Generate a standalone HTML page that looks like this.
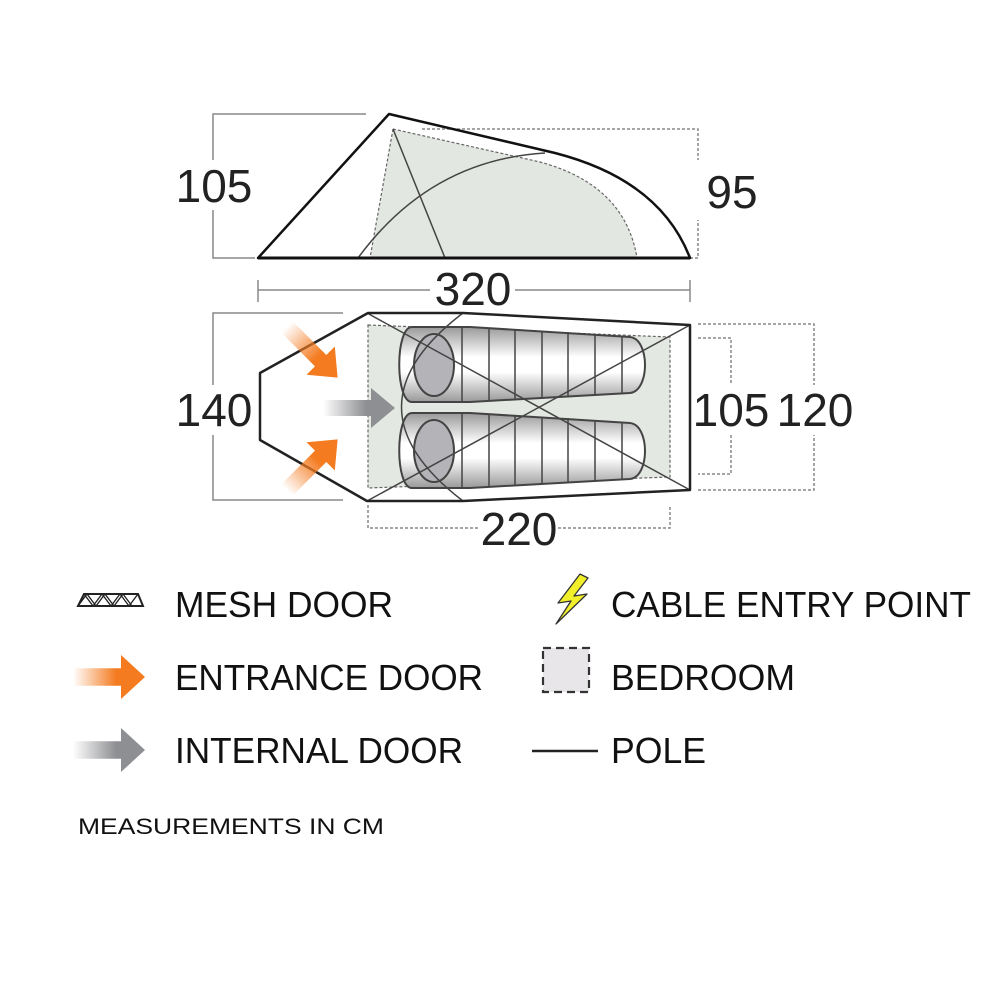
<!DOCTYPE html>
<html><head><meta charset="utf-8"><style>html,body{margin:0;padding:0;background:#fff}svg{display:block}</style></head>
<body>
<svg width="1000" height="1000" viewBox="0 0 1000 1000" xmlns="http://www.w3.org/2000/svg" font-family="Liberation Sans, sans-serif">
<defs>
<linearGradient id="og" x1="0" x2="1" y1="0" y2="0"><stop offset="0" stop-color="#f47b20" stop-opacity="0"/><stop offset="0.6" stop-color="#f47b20"/><stop offset="1" stop-color="#f47b20"/></linearGradient>
<linearGradient id="gg" x1="0" x2="1" y1="0" y2="0"><stop offset="0" stop-color="#8e8f92" stop-opacity="0"/><stop offset="0.6" stop-color="#8e8f92"/><stop offset="1" stop-color="#8e8f92"/></linearGradient>
<linearGradient id="bag" x1="0" x2="0" y1="0" y2="1"><stop offset="0" stop-color="#999"/><stop offset="0.4" stop-color="#fff"/><stop offset="0.6" stop-color="#fff"/><stop offset="1" stop-color="#999"/></linearGradient>
<g id="oarrow"><path d="M-40,-8 L8,-8 L8,-20 L32,0 L8,20 L8,8 L-40,8 Z" fill="url(#og)"/></g>
<g id="garrow"><path d="M-40,-8 L8,-8 L8,-20 L32,0 L8,20 L8,8 L-40,8 Z" fill="url(#gg)"/></g>
<g id="sbag">
<path d="M412,0 C395,0 395,75 412,75 L470,75 L630,66 C650,64 650,12 630,10 L470,0 Z" fill="url(#bag)" stroke="#444" stroke-width="2"/>
<g stroke="#444" stroke-width="1.5"><line x1="462" y1="0" x2="462" y2="75"/><line x1="489" y1="1" x2="489" y2="74"/><line x1="515" y1="2" x2="515" y2="73"/><line x1="542" y1="4" x2="542" y2="71"/><line x1="568" y1="5" x2="568" y2="70"/><line x1="595" y1="7" x2="595" y2="68"/><line x1="622" y1="9" x2="622" y2="66"/></g>
<ellipse cx="434" cy="38" rx="20" ry="31" fill="#b4b4b8" stroke="#444" stroke-width="2"/>
</g>
</defs>

<!-- side view dims -->
<g stroke="#888" stroke-width="1.5" fill="none">
<path d="M366,114 H213 V258 H255"/>
<path d="M422,129 H698 V258 H670" stroke-dasharray="3,2"/>
<path d="M258,280 V302 M690,280 V302 M258,290 H430 M515,290 H690"/>
</g>
<!-- plan view dims -->
<g stroke="#888" stroke-width="1.5" fill="none">
<path d="M343,313 H213 V500 H343"/>
<path d="M698,338 H731 V474 H698 M698,324 H814 V490 H698 M368,505 V528 H480 M558,528 H670 V505" stroke-dasharray="3,2"/>
</g>
<g fill="#fff">
<rect x="200" y="160" width="26" height="50"/>
<rect x="690" y="160" width="20" height="60"/>
<rect x="200" y="385" width="30" height="50"/>
<rect x="722" y="385" width="20" height="50"/>
<rect x="805" y="385" width="20" height="50"/>
</g>
<!-- side view tent -->
<path d="M393,129 L540,162 Q625,185 637,258 L370,258 Z" fill="#e3e7e1"/>
<path d="M393,129 L370,258 M393,129 L540,162 Q625,185 637,258" stroke="#666" stroke-width="1.2" fill="none" stroke-dasharray="3,2"/>
<path d="M358,258 Q430,160 545,153 M393,129 L445,258" stroke="#444" stroke-width="1.5" fill="none"/>
<path d="M258,258 L389,114 L555,153 Q660,180 690,258 Z" stroke="#111" stroke-width="2.5" fill="none" stroke-linejoin="round"/>
<line x1="258" y1="258" x2="690" y2="258" stroke="#111" stroke-width="3"/>

<!-- plan view -->
<path d="M368,325 L670,337 L670,477 L368,488 Z" fill="#e4e8e2" stroke="#666" stroke-width="1.2" stroke-dasharray="3,2"/>
<use href="#sbag" transform="translate(0,327)"/>
<use href="#sbag" transform="translate(0,413)"/>
<path d="M367,313 L690,490 M367,501 L690,325 M463,313 Q340,407 463,501" stroke="#444" stroke-width="1.5" fill="none"/>
<path d="M260,373 L368,313 L463,313 L690,325 L690,490 L463,501 L367,501 L260,440 Z" stroke="#222" stroke-width="2.5" fill="none" stroke-linejoin="round"/>
<use href="#oarrow" transform="translate(315,355) rotate(45)"/>
<use href="#oarrow" transform="translate(315,462) rotate(-45)"/>
<use href="#garrow" transform="translate(363,408)"/>

<g font-size="46" fill="#222" text-anchor="middle">
<text x="214" y="202">105</text>
<text x="732" y="208">95</text>
<text x="473" y="305">320</text>
<text x="214" y="426">140</text>
<text x="731" y="426">105</text>
<text x="815" y="426">120</text>
<text x="519" y="545">220</text>
</g>

<!-- legend -->
<g>
<path d="M78,606 L84,594 L138,594 L143,606 Z" fill="#fff" stroke="#222" stroke-width="2"/>
<path d="M84,594 L93,606 L102,594 L111,606 L120,594 L129,606 L138,594 M78,606 L87,594 L96,606 L105,594 L114,606 L123,594 L132,606" stroke="#222" stroke-width="1.3" fill="none"/>
<use href="#oarrow" transform="translate(113,677) scale(1,1.1)"/>
<use href="#garrow" transform="translate(113,750) scale(1,1.1)"/>
<path d="M580,574 L558,603 L571,601 L556,624 L587,594 L574,596 L588,578 Z" fill="#f0ef2a" stroke="#333" stroke-width="1.3" stroke-linejoin="round"/>
<rect x="543" y="648" width="46" height="44" fill="#e8e6e8" stroke="#333" stroke-width="2.2" stroke-dasharray="8,5"/>
<line x1="532" y1="751" x2="598" y2="751" stroke="#222" stroke-width="2.5"/>
</g>
<g font-size="36" fill="#111">
<text x="175" y="617" textLength="218" lengthAdjust="spacingAndGlyphs">MESH DOOR</text>
<text x="175" y="690" textLength="308" lengthAdjust="spacingAndGlyphs">ENTRANCE DOOR</text>
<text x="175" y="763" textLength="288" lengthAdjust="spacingAndGlyphs">INTERNAL DOOR</text>
<text x="611" y="617" textLength="360" lengthAdjust="spacingAndGlyphs">CABLE ENTRY POINT</text>
<text x="611" y="690" textLength="184" lengthAdjust="spacingAndGlyphs">BEDROOM</text>
<text x="611" y="763" textLength="95" lengthAdjust="spacingAndGlyphs">POLE</text>
</g>
<text x="78" y="834" font-size="22" fill="#111" textLength="306" lengthAdjust="spacingAndGlyphs">MEASUREMENTS IN CM</text>
</svg>
</body></html>
